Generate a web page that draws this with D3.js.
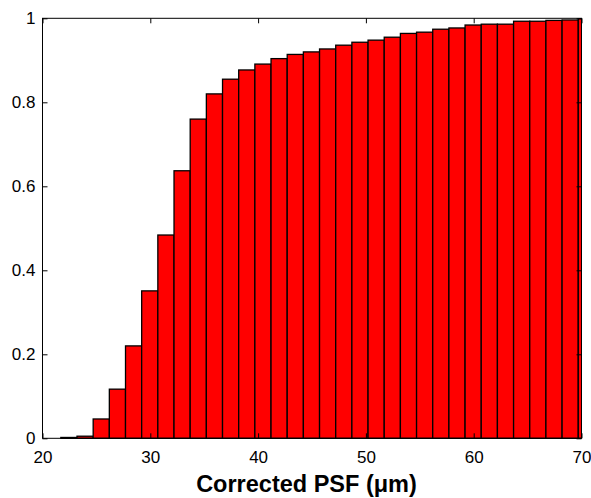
<!DOCTYPE html>
<html>
<head>
<meta charset="utf-8">
<script src="https://cdn.jsdelivr.net/npm/d3@7"></script>
<style>
  html, body { margin: 0; padding: 0; background: #fff; }
  svg { display: block; font-family: "Liberation Sans", Arial, sans-serif; }
</style>
</head>
<body>
<svg id="chart" width="591" height="498"></svg>
<script>
// Cumulative distribution of corrected PSF width, binned every 1.5 µm
const binStart = 21.7;
const binWidth = 1.5;
const cumulative = [
  0.002, 0.005, 0.046, 0.117, 0.220, 0.351, 0.484, 0.637, 0.760, 0.820,
  0.855, 0.877, 0.891, 0.904, 0.914, 0.920, 0.927, 0.936, 0.943, 0.948,
  0.955, 0.964, 0.967, 0.974, 0.977, 0.984, 0.986, 0.986, 0.993, 0.993,
  0.995, 0.996, 0.999
];
const xTicks = [20, 30, 40, 50, 60, 70];
const yTicks = [0, 0.2, 0.4, 0.6, 0.8, 1];
const xTitle = "Corrected PSF (\u03bcm)";

const bins = cumulative.map((v, i) => ({
  x0: binStart + i * binWidth,
  x1: binStart + (i + 1) * binWidth,
  value: v
}));

const margin = { left: 42.5, right: 9.5, top: 18.3, bottom: 59.7 };
const W = 591, H = 498;
const svg = d3.select("#chart");

const x = d3.scaleLinear().domain([20, 70]).range([margin.left, W - margin.right]);
const y = d3.scaleLinear().domain([0, 1]).range([H - margin.bottom, margin.top]);

svg.append("clipPath").attr("id", "plot-clip")
  .append("rect")
  .attr("x", x(20)).attr("y", y(1) - 1)
  .attr("width", x(70) - x(20)).attr("height", y(0) - y(1) + 2);

// bars
svg.append("g").attr("clip-path", "url(#plot-clip)")
  .selectAll("rect").data(bins).join("rect")
  .attr("x", d => x(d.x0))
  .attr("width", d => x(d.x1) - x(d.x0))
  .attr("y", d => y(d.value))
  .attr("height", d => y(0) - y(d.value))
  .attr("fill", "#ff0000")
  .attr("stroke", "#000")
  .attr("stroke-width", 1.3);

// axes: box with inward ticks
const tickLen = 5;
const axisStyle = g => {
  g.select(".domain").remove();
  g.selectAll("line").attr("stroke", "#000").attr("stroke-width", 1);
  g.selectAll("text").attr("fill", "#000").style("font-size", "17px");
};

svg.append("g")
  .attr("transform", `translate(0,${y(0)})`)
  .call(d3.axisBottom(x).tickValues(xTicks).tickFormat(d3.format("d"))
    .tickSizeInner(-tickLen).tickSizeOuter(0).tickPadding(13))
  .call(axisStyle)
  .call(g => g.selectAll("text").attr("dy", "0.71em"));

svg.append("g")
  .attr("transform", `translate(0,${y(1)})`)
  .call(d3.axisTop(x).tickValues(xTicks).tickFormat("")
    .tickSizeInner(-tickLen).tickSizeOuter(0))
  .call(axisStyle);

svg.append("g")
  .attr("transform", `translate(${x(20)},0)`)
  .call(d3.axisLeft(y).tickValues(yTicks).tickFormat(d => d === 0 || d === 1 ? d3.format("d")(d) : d3.format(".1f")(d))
    .tickSizeInner(-tickLen).tickSizeOuter(0).tickPadding(7))
  .call(axisStyle);

svg.append("g")
  .attr("transform", `translate(${x(70)},0)`)
  .call(d3.axisRight(y).tickValues(yTicks).tickFormat("")
    .tickSizeInner(-tickLen).tickSizeOuter(0))
  .call(axisStyle);

// frame
svg.append("rect")
  .attr("x", x(20)).attr("y", y(1))
  .attr("width", x(70) - x(20)).attr("height", y(0) - y(1))
  .attr("fill", "none").attr("stroke", "#000").attr("stroke-width", 1);

// axis title
svg.append("text")
  .attr("x", 306.5)
  .attr("y", 491.5)
  .attr("text-anchor", "middle")
  .style("font-size", "23.5px")
  .style("font-weight", "bold")
  .attr("fill", "#000")
  .text(xTitle);
</script>
</body>
</html>
